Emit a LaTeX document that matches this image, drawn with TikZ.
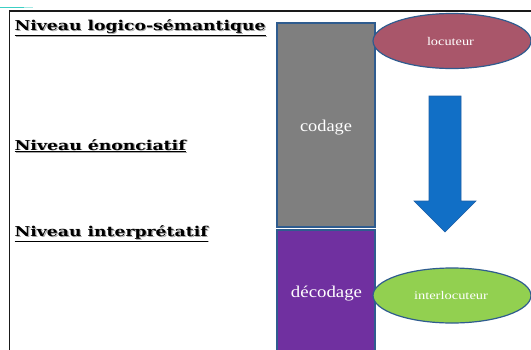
\documentclass[tikz,border=0pt]{standalone}
\usepackage{fontspec}
\usepackage{graphicx}
\setmainfont{Liberation Serif}
\newfontfamily\headfont{DejaVu Serif}

% colours of the boxes, bubbles and arrow
\definecolor{boxgray}{HTML}{7F7F7F}
\definecolor{boxpurple}{HTML}{7030A0}
\definecolor{bubblerose}{HTML}{A9566A}
\definecolor{bubblegreen}{HTML}{92D050}
\definecolor{edgeblue}{HTML}{2F5C8F}
\definecolor{arrowblue}{HTML}{116FC6}
\definecolor{arrowedge}{HTML}{1E5FA6}
\definecolor{frameline}{HTML}{1A1A1A}
\definecolor{cornerteal}{HTML}{3CCFC4}

% text stretched to a given width, height unchanged
\newcommand\stretchto[2]{\resizebox{#1}{\height}{#2}}
% underlined heading with a soft grey drop shadow
\newcommand\levelhead[2]{\stretchto{#1}{\rlap{\raisebox{-0.9pt}{\hspace{0.9pt}\textcolor{black!35}{\underline{#2}}}}\underline{#2}}}

\tikzset{
  levellabel/.style={anchor=base west, inner sep=0pt, font=\headfont\fontsize{13.6}{16}\selectfont\bfseries},
  stagebox/.style={draw=edgeblue, line width=1.2pt},
  bubble/.style={draw=edgeblue, line width=1.2pt},
  boxtext/.style={text=white, inner sep=0pt, anchor=base, font=\fontsize{16.5}{19}\selectfont},
  bubbletext/.style={text=white, inner sep=0pt, anchor=base, font=\fontsize{11.7}{14}\selectfont},
}

\begin{document}
\begin{tikzpicture}[x=1pt,y=-1pt]
  \useasboundingbox (0,0) rectangle (531,349);
  \fill[white] (0,0) rectangle (531,349);

  % page frame: top rule and left rule
  \draw[frameline, line width=1.5pt] (531,11) -- (9.3,11) -- (9.3,352);
  % small teal stroke in the corner
  \draw[cornerteal, line width=1.3pt] (0,7.3) -- (24,7.3);
  \draw[cornerteal!45, line width=1.1pt] (24,7.3) -- (33,7.3);

  % coding / decoding stages
  \filldraw[stagebox, fill=boxgray] (277,23) rectangle (375,227);
  \filldraw[stagebox, fill=boxpurple] (277,230) rectangle (375,356);

  % speaker and listener bubbles
  \filldraw[bubble, fill=bubblerose] (452,41) ellipse [x radius=79, y radius=27.5];
  \filldraw[bubble, fill=bubblegreen] (452,295.5) ellipse [x radius=79, y radius=27.5];

  % downward block arrow
  \filldraw[draw=arrowedge, fill=arrowblue, line width=0.6pt, line join=miter]
    (429,96) -- (461,96) -- (461,201) -- (476,201) -- (445,232) -- (414,201) -- (429,201) -- cycle;

  % stage and bubble labels
  \node[boxtext] (codage) at (326,131) {\stretchto{52pt}{codage}};
  \node[boxtext] (decodage) at (326.5,297) {\stretchto{71pt}{décodage}};
  \node[bubbletext] (locuteur) at (450.5,45) {\stretchto{47pt}{locuteur}};
  \node[bubbletext] (interlocuteur) at (451,299) {\stretchto{74pt}{interlocuteur}};

  % level headings
  \node[levellabel] (logsem) at (14.5,30.5) {\levelhead{251pt}{Niveau logico-sémantique}};
  \node[levellabel] (enonc) at (14.5,150) {\levelhead{171pt}{Niveau énonciatif}};
  \node[levellabel] (interp) at (14.5,236.5) {\levelhead{193pt}{Niveau interprétatif}};
\end{tikzpicture}
\end{document}
